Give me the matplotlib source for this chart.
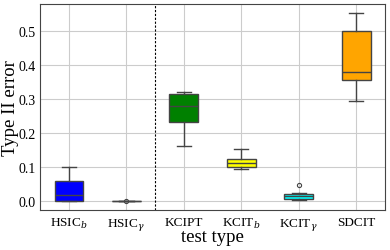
import matplotlib
matplotlib.use('Agg')
import matplotlib.pyplot as plt

labels = [r'HSIC$_b$', r'HSIC$_\gamma$', 'KCIPT', r'KCIT$_b$', r'KCIT$_\gamma$', 'SDCIT']
colors = ['blue', 'gray', 'green', 'yellow', 'cyan', 'orange']
whislo = [0.0, 0.0, 0.162, 0.093, 0.002, 0.295]
q1 = [0.0, 0.0, 0.233, 0.100, 0.005, 0.355]
med = [0.017, 0.0, 0.280, 0.110, 0.013, 0.380]
q3 = [0.057, 0.0, 0.315, 0.122, 0.020, 0.500]
whishi = [0.098, 0.0, 0.321, 0.152, 0.022, 0.553]
fliers = [[], [0.0], [], [], [0.047], []]

plt.rcParams['font.family'] = ['Liberation Serif', 'DejaVu Serif']
plt.rcParams['mathtext.fontset'] = 'dejavuserif'

fig = plt.figure(figsize=(3.9, 2.51), dpi=100)
ax = fig.add_axes([0.103, 0.159, 0.884, 0.821])

stats = []
for i in range(len(labels)):
    stats.append({'whislo': whislo[i], 'q1': q1[i], 'med': med[i], 'q3': q3[i],
                  'whishi': whishi[i], 'fliers': fliers[i], 'label': labels[i]})

line_col = '#444444'
bp = ax.bxp(stats, positions=range(len(labels)), widths=0.5, patch_artist=True,
            boxprops=dict(edgecolor=line_col, linewidth=1.0),
            medianprops=dict(color=line_col, linewidth=1.0),
            whiskerprops=dict(color=line_col, linewidth=1.0),
            capprops=dict(color=line_col, linewidth=1.0),
            flierprops=dict(marker='o', markersize=3, markerfacecolor='none',
                            markeredgecolor=line_col, markeredgewidth=0.8))
for patch, c in zip(bp['boxes'], colors):
    patch.set_facecolor(c)

ax.axvline(1.5, color='black', linestyle='--', linewidth=0.8, dashes=(2, 1.5))
ax.set_xlim(-0.5, 5.5)
ax.set_ylim(-0.028, 0.58)
ax.set_yticks([0.0, 0.1, 0.2, 0.3, 0.4, 0.5])
ax.grid(True, color='#cccccc', linewidth=0.8)
ax.set_axisbelow(True)
for s in ax.spines.values():
    s.set_color('#444444')
ax.tick_params(axis='x', labelsize=9.5, length=0, pad=4)
ax.tick_params(axis='y', labelsize=10, length=0, pad=3)
ax.set_xlabel('test type', fontsize=13.5)
ax.set_ylabel('Type II error', fontsize=13.5)
ax.xaxis.set_label_coords(0.5, -0.085)
ax.yaxis.set_label_coords(-0.061, 0.5)

fig.savefig('out.png', dpi=100)
